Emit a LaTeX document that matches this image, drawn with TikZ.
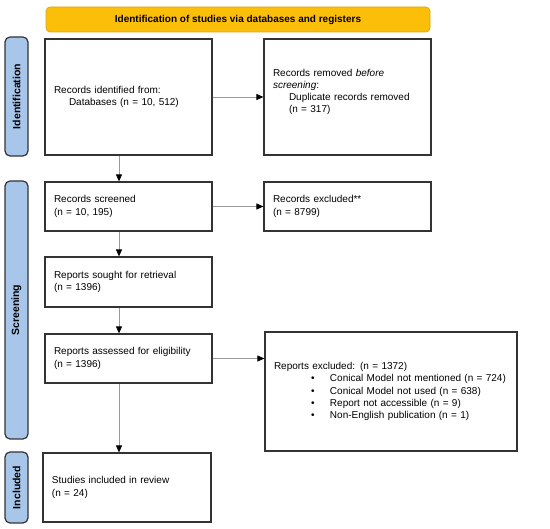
\documentclass[tikz,border=0pt]{standalone}
\usepackage{fontspec}
\setmainfont{Liberation Sans}
\usetikzlibrary{arrows.meta}
\definecolor{bannergold}{HTML}{FBBF0A}
\definecolor{bannerline}{HTML}{D9A21B}
\definecolor{sideblue}{HTML}{A7C6EA}
\definecolor{boxline}{HTML}{333333}
\definecolor{arrgray}{HTML}{999999}

\begin{document}
\begin{tikzpicture}[x=1pt, y=-1pt, font=\fontsize{10}{12.3}\selectfont,
  box/.style={draw=boxline, line width=1.2pt, align=left, inner xsep=9pt, inner ysep=3pt},
  sidelab/.style={draw=boxline, line width=1.2pt, fill=sideblue, rounded corners=5pt, rotate=90,
    minimum height=23pt, inner sep=0pt, font=\fontsize{10.5}{12}\selectfont\bfseries},
  arr/.style={draw=arrgray, line width=0.8pt, -{Triangle[length=7pt,width=6pt,black]}}]
\useasboundingbox (0,0) rectangle (550,529);

% header and phase labels
\node[fill=bannergold, draw=bannerline, line width=0.6pt, rounded corners=4pt,
  minimum width=384pt, minimum height=25pt, font=\fontsize{10}{12}\selectfont\bfseries]
  (banner) at (238,19.5) {Identification of studies via databases and registers};
\node[sidelab, minimum width=119pt] (idlab) at (16.5,96.5) {Identification};
\node[sidelab, minimum width=258pt] (scrlab) at (16.5,310) {Screening};
\node[sidelab, minimum width=71pt] (inclab) at (16.5,487.5) {Included};

% main column
\node[box, minimum width=167pt, minimum height=116pt, text width=149pt] (ident) at (128.5,97)
  {Records identified from:\\ \hspace*{15pt}Databases (n = 10, 512)};
\node[box, minimum width=167pt, minimum height=49pt, text width=149pt] (screened) at (128.5,206.5)
  {Records screened\\ (n = 10, 195)};
\node[box, minimum width=167pt, minimum height=50pt, text width=149pt] (sought) at (128.5,282)
  {Reports sought for retrieval\\ (n = 1396)};
\node[box, minimum width=167pt, minimum height=49pt, text width=149pt] (assessed) at (128.5,358.5)
  {Reports assessed for eligibility\\ (n = 1396)};
\node[box, minimum width=168pt, minimum height=69pt, text width=150pt] (studies) at (127,487.5)
  {Studies included in review\\ (n = 24)};

% side column
\node[box, minimum width=167pt, minimum height=116pt, text width=149pt] (dup) at (347.5,97)
  {Records removed \textit{before}\\ \textit{screening}:\\ \hspace*{16pt}Duplicate records removed\\
   \hspace*{16pt}(n = 317)\\ \mbox{}};
\node[box, minimum width=167pt, minimum height=49pt, text width=149pt] (excl) at (347.5,206.5)
  {Records excluded**\\ (n = 8799)};
\node[box, minimum width=252pt, minimum height=119pt, text width=234pt] (repexcl) at (391,391.5)
  {Reports excluded: (n = 1372)\\
   \hspace*{37pt}\makebox[19pt][l]{\textbullet}Conical Model not mentioned (n = 724)\\
   \hspace*{37pt}\makebox[19pt][l]{\textbullet}Conical Model not used (n = 638)\\
   \hspace*{37pt}\makebox[19pt][l]{\textbullet}Report not accessible (n = 9)\\
   \hspace*{37pt}\makebox[19pt][l]{\textbullet}Non-English publication (n = 1)};

% connectors
\coordinate (spine) at (119,0);
\draw[arr] (ident.south -| spine) -- (screened.north -| spine);
\draw[arr] (screened.south -| spine) -- (sought.north -| spine);
\draw[arr] (sought.south -| spine) -- (assessed.north -| spine);
\draw[arr] (assessed.south -| spine) -- (studies.north -| spine);
\draw[arr] (ident.east) -- (dup.west);
\draw[arr] (screened.east) -- (excl.west);
\draw[arr] (assessed.east) -- (assessed.east -| repexcl.west);
\end{tikzpicture}
\end{document}
